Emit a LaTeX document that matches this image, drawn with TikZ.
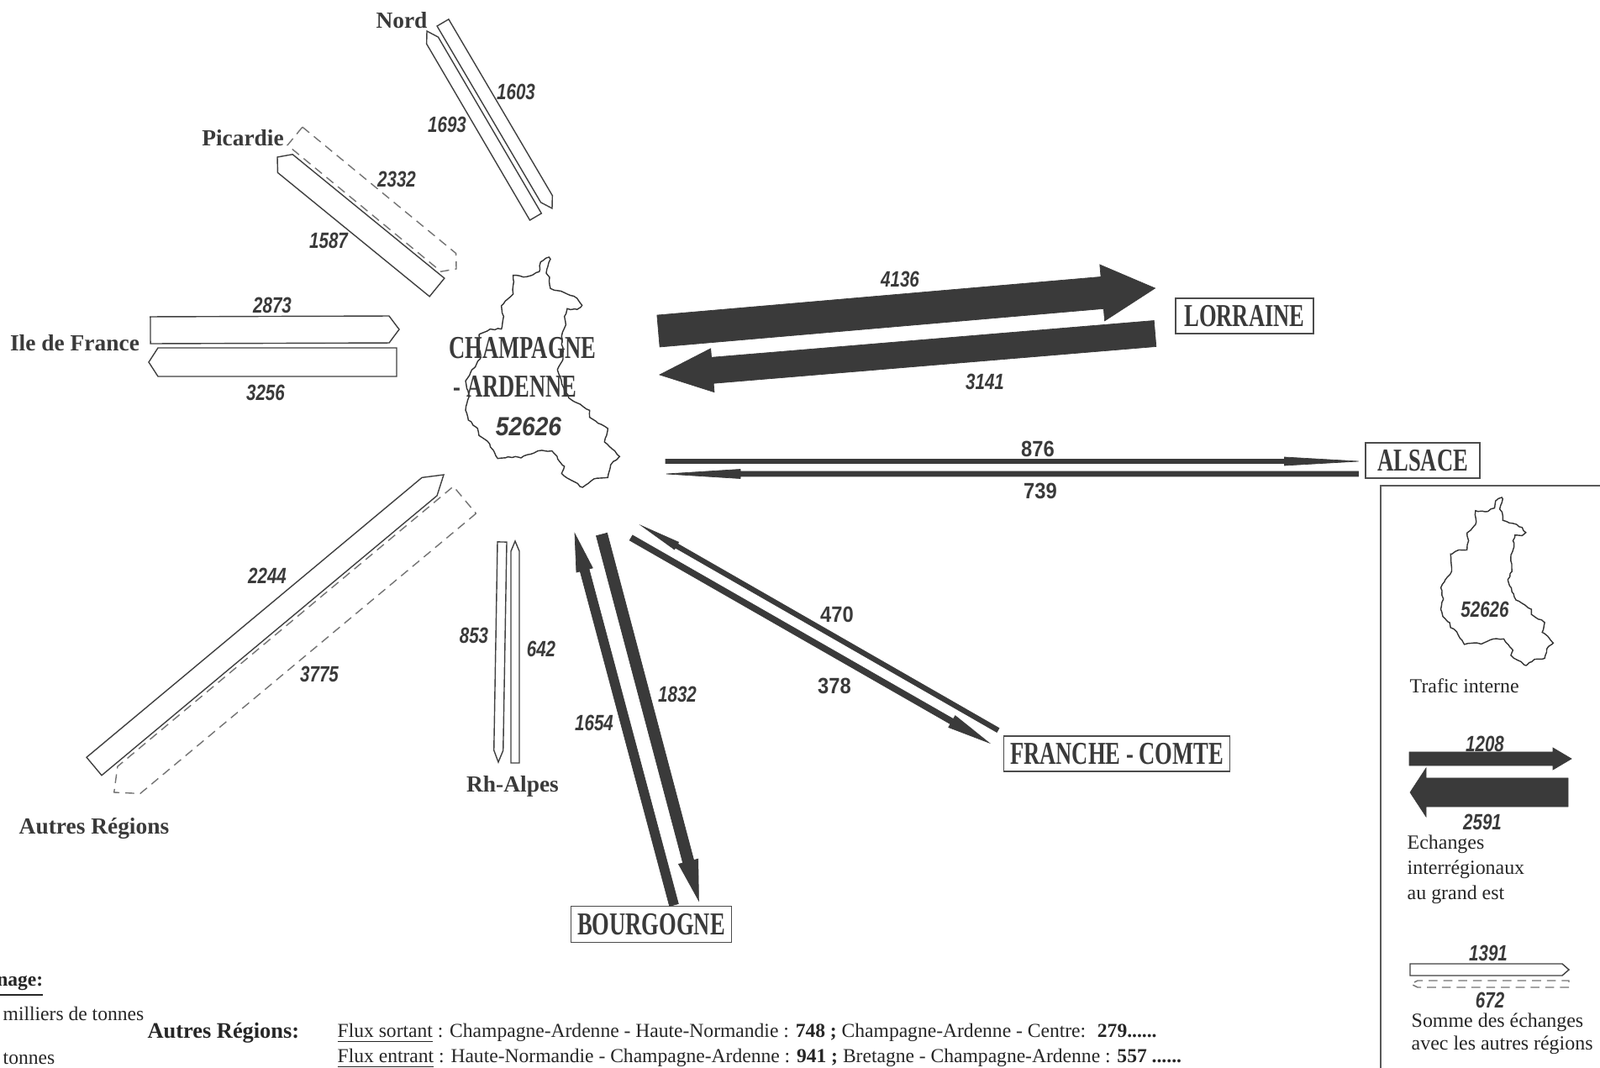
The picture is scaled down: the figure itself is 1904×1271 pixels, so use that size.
\documentclass[tikz,border=0pt]{standalone}
\usepackage{fontspec}
\usepackage{tikz}
\usetikzlibrary{calc,positioning,decorations.pathmorphing}
\setmainfont{Liberation Serif}
\newfontfamily\boxfam[FakeStretch=.70]{Liberation Serif}
\newfontfamily\numfam[FakeStretch=.78]{Liberation Sans}
\newfontfamily\numwfam[FakeStretch=.90]{Liberation Sans}
\definecolor{flux}{HTML}{3A3A3A}
\newcommand{\fBox}{\boxfam\bfseries\fontsize{10.8}{12}\selectfont}
\newcommand{\fNum}{\numfam\bfseries\itshape\fontsize{7.5}{9}\selectfont}
\newcommand{\fNumD}{\numwfam\bfseries\fontsize{7.5}{9}\selectfont}
\newcommand{\fBig}{\numwfam\bfseries\itshape\fontsize{8.9}{10}\selectfont}
\newcommand{\fReg}{\bfseries\fontsize{7.8}{9}\selectfont}
\newcommand{\fLeg}{\fontsize{6.8}{8}\selectfont}
\newcommand{\fBas}{\fontsize{6.7}{8}\selectfont}
\newcommand{\champoutline}{(520,78) -- (490,95) -- (485,130) -- (440,148) -- (392,143) -- (392,210) -- (350,252) -- (358,290) -- (350,335) -- (310,335) -- (270,355) -- (275,440) -- (240,490) -- (222,520) -- (235,575) -- (222,625) -- (232,660) -- (265,690) -- (270,715) -- (300,735) -- (325,775) -- (337,797) -- (400,790) -- (420,795) -- (480,770) -- (530,770) -- (575,825) -- (565,850) -- (600,875) -- (640,900) -- (680,870) -- (730,865) -- (740,820) -- (772,790) -- (755,770) -- (718,738) -- (730,690) -- (665,650) -- (665,625) -- (590,580) -- (570,540) -- (550,480) -- (570,440) -- (565,360) -- (580,320) -- (575,290) -- (585,262) -- (620,265) -- (638,250) -- (620,225) -- (575,205) -- (525,190) -- (522,150) -- (510,135) -- (525,85) -- cycle}
% style, tail, tip, half shaft, half head, head length
\newcommand{\bfleche}[6]{
	\coordinate (hb) at ($(#3)!#6!(#2)$);
	\draw[#1] ($(#2)!#4!90:(#3)$) -- ($(hb)!#4!90:(#3)$) -- ($(hb)!#5!90:(#3)$) -- (#3)
	-- ($(hb)!#5!-90:(#3)$) -- ($(hb)!#4!-90:(#3)$) -- ($(#2)!#4!-90:(#3)$) -- cycle;
}
\begin{document}
\begin{tikzpicture}[x=.01cm,y=-.01cm]
	\tikzstyle{sombre}=[fill=flux, draw=flux, line width=.2pt]
	\tikzstyle{clair}=[fill=white, draw=black!75, line width=.4pt]
	\tikzstyle{pale}=[clair, draw=black!55, densely dashed]
	\tikzstyle{region}=[rectangle, draw=black!70, line width=.4pt, font=\fBox, text=flux, inner sep=0pt]
	\tikzstyle{lieu}=[font=\fReg, text=flux, inner sep=0pt]
	\tikzstyle{num}=[font=\fNum, text=flux, inner sep=0pt]
	\tikzstyle{numd}=[font=\fNumD, text=flux, inner sep=0pt]
	\tikzstyle{legtxt}=[font=\fLeg, text=black!85, inner sep=0pt, text height=5pt, text depth=1.5pt]
	\tikzstyle{bas}=[font=\fBas, text=black!85, inner sep=0pt]
	\tikzstyle{contour}=[draw=black!80, line width=.4pt, decorate, decoration={random steps, segment length=1.2pt, amplitude=.25pt}]
	\useasboundingbox (0,0) rectangle (1904,1271);
	
	% carte
	\begin{scope}[shift={(480,280)},scale=.3333]
	\draw[contour] \champoutline;
	\end{scope}
	\node[region, draw=none] (champ) at (622,414) {CHAMPAGNE};
	\node[region, draw=none] (ardenne) at (613,460) {- ARDENNE};
	\node[font=\fBig, text=flux, inner sep=0pt] (total) at (629,508) {52626};
	
	% regions du grand est
	\node[region, minimum width=1.64cm, minimum height=.42cm] (lorraine) at (1481,376) {LORRAINE};
	\node[region, minimum width=1.36cm, minimum height=.42cm] (alsace) at (1693,548) {ALSACE};
	\node[region, minimum width=2.69cm, minimum height=.42cm] (franche) at (1329,897) {FRANCHE - COMTE};
	\node[region, minimum width=1.91cm, minimum height=.43cm] (bourgogne) at (775,1100) {BOURGOGNE};
	
	\node[lieu] (nord) at (478,24) {Nord};
	\node[lieu] (picardie) at (289,164) {Picardie};
	\node[lieu] (idf) at (89,408) {Ile de France};
	\node[lieu] (autres) at (112,986) {Autres Régions};
	\node[lieu] (rhone) at (610,936) {Rh-Alpes};
	
	\coordinate (lorA) at (783.5,394);
	\coordinate (lorB) at (1374.5,343);
	\coordinate (lorC) at (1374.5,397);
	\coordinate (lorD) at (785,446);
	\bfleche{sombre}{lorA}{lorB}{.19cm}{.335cm}{.63cm}
	\bfleche{sombre}{lorC}{lorD}{.155cm}{.26cm}{.63cm}
	\node[num] (n4136) at (1071,332) {4136};
	\node[num] (n3141) at (1172,454) {3141};
	
	\coordinate (alsA) at (792,549);
	\coordinate (alsB) at (1616.5,549);
	\coordinate (alsC) at (1616.5,564);
	\coordinate (alsD) at (793,564);
	\bfleche{sombre}{alsA}{alsB}{.025cm}{.05cm}{.88cm}
	\bfleche{sombre}{alsC}{alsD}{.03cm}{.055cm}{.88cm}
	\node[numd] (n876) at (1235,534) {876};
	\node[numd] (n739) at (1238,584) {739};
	
	\coordinate (frA) at (1187.6,869);
	\coordinate (frB) at (763.4,625.7);
	\coordinate (frC) at (751,640);
	\coordinate (frD) at (1177,884);
	\bfleche{sombre}{frA}{frB}{.028cm}{.05cm}{.48cm}
	\bfleche{sombre}{frC}{frD}{.035cm}{.08cm}{.51cm}
	\node[numd] (n470) at (996,731) {470};
	\node[numd] (n378) at (993,816) {378};
	
	\coordinate (boA) at (716,636);
	\coordinate (boB) at (831.4,1071.7);
	\coordinate (boC) at (802,1077);
	\coordinate (boD) at (684,635);
	\bfleche{sombre}{boA}{boB}{.067cm}{.12cm}{.48cm}
	\bfleche{sombre}{boC}{boD}{.055cm}{.10cm}{.45cm}
	\node[num] (n1832) at (806,826) {1832};
	\node[num] (n1654) at (707,860) {1654};
	
	% autres regions
	\coordinate (noA) at (527,27);
	\coordinate (noB) at (657,248);
	\coordinate (noC) at (637.4,258);
	\coordinate (noD) at (508,37);
	\bfleche{clair}{noA}{noB}{.08cm}{.08cm}{.13cm}
	\bfleche{clair}{noC}{noD}{.08cm}{.08cm}{.13cm}
	\node[num] (n1603) at (614,109) {1603};
	\node[num] (n1693) at (532,148) {1693};
	
	\coordinate (piA) at (351,162);
	\coordinate (piB) at (543,320);
	\coordinate (piC) at (520,342);
	\coordinate (piD) at (330,187);
	\bfleche{pale}{piA}{piB}{.14cm}{.14cm}{.12cm}
	\bfleche{clair}{piC}{piD}{.14cm}{.14cm}{.12cm}
	\node[num] (n2332) at (472,213) {2332};
	\node[num] (n1587) at (391,286) {1587};
	
	\coordinate (idA) at (179,393);
	\coordinate (idB) at (475,392);
	\coordinate (idC) at (472,431);
	\coordinate (idD) at (177,431);
	\bfleche{clair}{idA}{idB}{.16cm}{.16cm}{.12cm}
	\bfleche{clair}{idC}{idD}{.17cm}{.17cm}{.11cm}
	\node[num] (n2873) at (324,363) {2873};
	\node[num] (n3256) at (316,467) {3256};
	
	\coordinate (auC) at (553,595);
	\coordinate (auD) at (135.7,943);
	\coordinate (auA) at (112,912);
	\coordinate (auB) at (528,565);
	\bfleche{pale}{auC}{auD}{.21cm}{.21cm}{.23cm}
	\bfleche{clair}{auA}{auB}{.14cm}{.14cm}{.22cm}
	\node[num] (n2244) at (318,685) {2244};
	\node[num] (n3775) at (380,802) {3775};
	
	\coordinate (rhA) at (597.5,645);
	\coordinate (rhB) at (593,907);
	\coordinate (rhC) at (613,908);
	\coordinate (rhD) at (613,644);
	\bfleche{clair}{rhA}{rhB}{.055cm}{.055cm}{.14cm}
	\bfleche{clair}{rhC}{rhD}{.05cm}{.05cm}{.12cm}
	\node[num] (n853) at (564,756) {853};
	\node[num] (n642) at (644,772) {642};
	
	% legende
	\coordinate (legH) at (1904,578);
	\coordinate (legC) at (1643,578);
	\coordinate (legB) at (1643,1271);
	\draw[draw=black!65, line width=.5pt] (legH) -- (legC) -- (legB);
	\begin{scope}[shift={(1660.5,573)},scale=.2433]
	\draw[contour] \champoutline;
	\end{scope}
	\node[num] (legtotal) at (1767,725) {52626};
	\node[legtxt, anchor=west] (trafic) at (1677,818) {Trafic interne};
	
	\coordinate (l1A) at (1677,903);
	\coordinate (l1B) at (1870,903);
	\coordinate (l2A) at (1866,943);
	\coordinate (l2B) at (1678,943);
	\bfleche{sombre}{l1A}{l1B}{.08cm}{.13cm}{.22cm}
	\bfleche{sombre}{l2A}{l2B}{.17cm}{.29cm}{.19cm}
	\node[num] (n1208) at (1767,885) {1208};
	\node[num] (n2591) at (1764,978) {2591};
	\node[legtxt, anchor=west] (echanges) at (1674,1004) {Echanges};
	\node[legtxt, below=.06cm of echanges.south west, anchor=north west] (interreg) {interrégionaux};
	\node[legtxt, below=.06cm of interreg.south west, anchor=north west] (grandest) {au grand est};
	
	\coordinate (l3A) at (1678,1154);
	\coordinate (l3B) at (1867,1154);
	\coordinate (l4A) at (1867,1171);
	\coordinate (l4B) at (1679,1171);
	\bfleche{clair}{l3A}{l3B}{.07cm}{.07cm}{.08cm}
	\bfleche{pale}{l4A}{l4B}{.04cm}{.04cm}{.08cm}
	\node[num] (n1391) at (1771,1134) {1391};
	\node[num] (n672) at (1773,1190) {672};
	\node[legtxt, anchor=west] (somme) at (1679,1216) {Somme des échanges};
	\node[legtxt, below=.03cm of somme.south west, anchor=north west] (avec) {avec les autres régions};
	
	% bas de page
	\node[bas, font=\fBas\bfseries, anchor=east] (nage) at (52,1174) {\underline{nage:}};
	\node[bas, anchor=west] (milliers) at (3,1206) {milliers de tonnes};
	\node[bas, anchor=west] (tonnes) at (3,1260) {tonnes};
	\node[bas, font=\fontsize{7.5}{9}\selectfont\bfseries, anchor=west] (fluxtitre) at (175,1229) {Autres Régions:};
	\node[bas, anchor=west] (sortant) at (401,1230) {\underline{Flux sortant} : Champagne-Ardenne - Haute-Normandie : \textbf{748 ;} Champagne-Ardenne - Centre: \ \textbf{279......}};
	\node[bas, anchor=west] (entrant) at (401,1260) {\underline{Flux entrant} : Haute-Normandie - Champagne-Ardenne : \textbf{941 ;} Bretagne - Champagne-Ardenne : \textbf{557 ......}};
\end{tikzpicture}
\end{document}
